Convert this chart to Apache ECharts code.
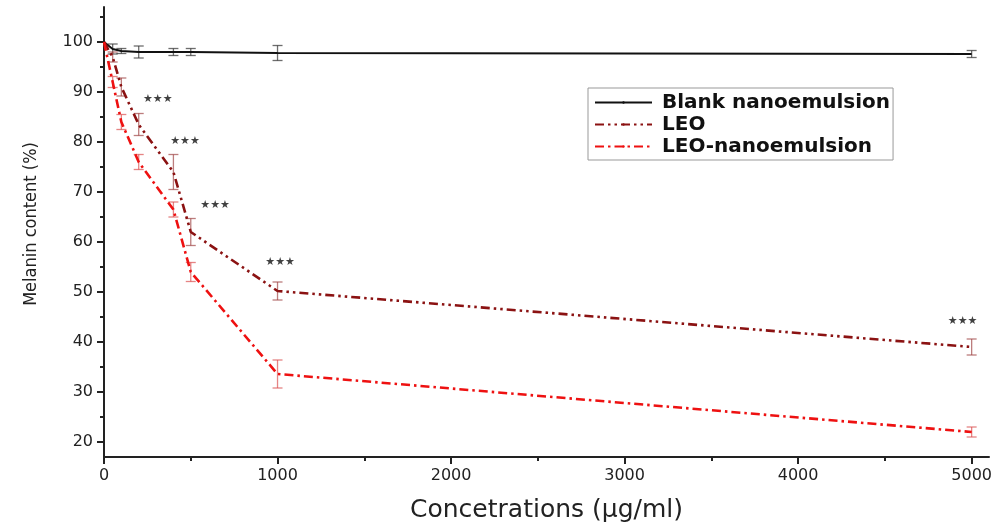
<!DOCTYPE html>
<html>
<head>
<meta charset="utf-8">
<script src="https://cdn.jsdelivr.net/npm/echarts@6/dist/echarts.min.js"></script>
<style>
  html, body { margin: 0; padding: 0; background: #fff; }
  #chart { width: 998px; height: 527px; }
</style>
</head>
<body>
<div id="chart"></div>
<script>
// concentrations (µg/ml)
const conc = [0, 50, 100, 200, 400, 500, 1000, 5000];

// melanin content (%)
const blank = [100, 98.6, 98.2, 98.0, 98.0, 98.0, 97.8, 97.6];
const blankErr = [0, 1.0, 0.5, 1.2, 0.7, 0.7, 1.5, 0.7];
const leo = [100, 97, 91, 83.5, 74, 62, 50.2, 39];
const leoErr = [0, 1.0, 1.8, 2.2, 3.5, 2.7, 1.8, 1.6];
const leoNano = [100, 92, 84, 76, 66.5, 54, 33.6, 22];
const leoNanoErr = [0, 1.1, 1.5, 1.5, 1.5, 1.9, 2.8, 1.0];

// significance marks
const starX = [310, 467, 640, 1015, 4948];
const starY = [88.6, 80.2, 67.4, 56, 44.2];

const xMajor = [0, 1000, 2000, 3000, 4000, 5000];
const xMinor = [500, 1500, 2500, 3500, 4500];
const yMajor = [20, 30, 40, 50, 60, 70, 80, 90, 100];
const yMinor = [25, 35, 45, 55, 65, 75, 85, 95, 105];

const pairs = (ys) => conc.map((x, i) => [x, ys[i]]);

function errSeries(name, vals, errs, color) {
  return {
    name: name + ' err',
    type: 'custom',
    silent: true,
    z: 1,
    data: conc.map((x, i) => [x, vals[i] - errs[i], vals[i] + errs[i]]).filter((d, i) => errs[i] > 0),
    renderItem: function (params, api) {
      const lo = api.coord([api.value(0), api.value(1)]);
      const hi = api.coord([api.value(0), api.value(2)]);
      const w = 5;
      const style = { stroke: color, lineWidth: 1.3 };
      return {
        type: 'group',
        children: [
          { type: 'line', shape: { x1: hi[0], y1: hi[1], x2: lo[0], y2: lo[1] }, style },
          { type: 'line', shape: { x1: hi[0] - w, y1: hi[1], x2: hi[0] + w, y2: hi[1] }, style },
          { type: 'line', shape: { x1: lo[0] - w, y1: lo[1], x2: lo[0] + w, y2: lo[1] }, style }
        ]
      };
    }
  };
}

const chart = echarts.init(document.getElementById('chart'));

const axisCommon = {
  axisLine: { show: true, lineStyle: { color: '#222', width: 2 } },
  splitLine: { show: false }
};

chart.setOption({
  animation: false,
  grid: { left: 104, right: 9, top: 7, bottom: 70, outerBoundsMode: 'none', containLabel: false },
  legend: {
    left: 588,
    top: 88,
    orient: 'vertical',
    data: ['Blank nanoemulsion', 'LEO', 'LEO-nanoemulsion'],
    borderColor: '#999',
    borderWidth: 1,
    borderRadius: 0,
    padding: [4, 3, 3, 6],
    itemWidth: 57,
    itemHeight: 3,
    itemGap: 1,
    textStyle: {
      fontFamily: 'DejaVu Sans',
      fontWeight: 'bold',
      fontSize: 20,
      lineHeight: 21,
      color: '#111',
      padding: [0, 0, 0, 5]
    }
  },
  xAxis: [
    Object.assign({}, axisCommon, {
      type: 'value',
      min: 0,
      max: 5100,
      name: 'Concetrations (µg/ml)',
      nameLocation: 'middle',
      nameGap: 41,
      nameTextStyle: { fontFamily: 'DejaVu Sans', fontSize: 25, color: '#222' },
      axisTick: { show: true, customValues: xMajor, length: 7, inside: false, lineStyle: { color: '#222', width: 2 } },
      axisLabel: { customValues: xMajor, formatter: (v) => String(v), fontFamily: 'DejaVu Sans', fontSize: 16, color: '#222', margin: 11 }
    }),
    {
      type: 'value',
      min: 0,
      max: 5100,
      position: 'bottom',
      axisLine: { show: false },
      axisLabel: { show: false },
      splitLine: { show: false },
      axisTick: { show: true, customValues: xMinor, length: 4, lineStyle: { color: '#222', width: 2 } }
    }
  ],
  yAxis: [
    Object.assign({}, axisCommon, {
      type: 'value',
      min: 17,
      max: 107,
      name: 'Melanin content (%)',
      nameLocation: 'middle',
      nameGap: 64,
      nameTextStyle: {
        fontFamily: '"Liberation Sans Narrow", "Arial Narrow", "DejaVu Sans Condensed", sans-serif',
        fontSize: 18,
        color: '#222',
        padding: [0, 0, 0, 16]
      },
      axisTick: { show: true, customValues: yMajor, length: 7, lineStyle: { color: '#222', width: 2 } },
      axisLabel: { customValues: yMajor, fontFamily: 'DejaVu Sans', fontSize: 16, color: '#222', margin: 11 }
    }),
    {
      type: 'value',
      min: 17,
      max: 107,
      position: 'left',
      axisLine: { show: false },
      axisLabel: { show: false },
      splitLine: { show: false },
      axisTick: { show: true, customValues: yMinor, length: 4, lineStyle: { color: '#222', width: 2 } }
    }
  ],
  series: [
    errSeries('Blank nanoemulsion', blank, blankErr, 'rgba(60,60,60,0.75)'),
    errSeries('LEO', leo, leoErr, 'rgba(160,70,70,0.7)'),
    errSeries('LEO-nanoemulsion', leoNano, leoNanoErr, 'rgba(220,80,80,0.7)'),
    {
      name: 'Blank nanoemulsion',
      type: 'line',
      data: pairs(blank),
      symbol: 'none',
      z: 3,
      itemStyle: { color: '#111' },
      lineStyle: { color: '#111', width: 2 }
    },
    {
      name: 'LEO',
      type: 'line',
      data: pairs(leo),
      symbol: 'none',
      z: 3,
      itemStyle: { color: '#8b1212' },
      lineStyle: { color: '#8b1212', width: 2.6, type: [9, 4, 2.5, 4, 2.5, 4] }
    },
    {
      name: 'LEO-nanoemulsion',
      type: 'line',
      data: pairs(leoNano),
      symbol: 'none',
      z: 4,
      itemStyle: { color: '#ee1111' },
      lineStyle: { color: '#ee1111', width: 2.6, type: [9, 4, 2.5, 4] }
    },
    {
      name: 'stars',
      type: 'scatter',
      data: starX.map((x, i) => [x, starY[i]]),
      symbolSize: 0,
      silent: true,
      label: {
        show: true,
        formatter: '★★★',
        position: 'inside',
        fontFamily: 'DejaVu Sans',
        fontSize: 11,
        color: '#111'
      }
    }
  ]
});
</script>
</body>
</html>
